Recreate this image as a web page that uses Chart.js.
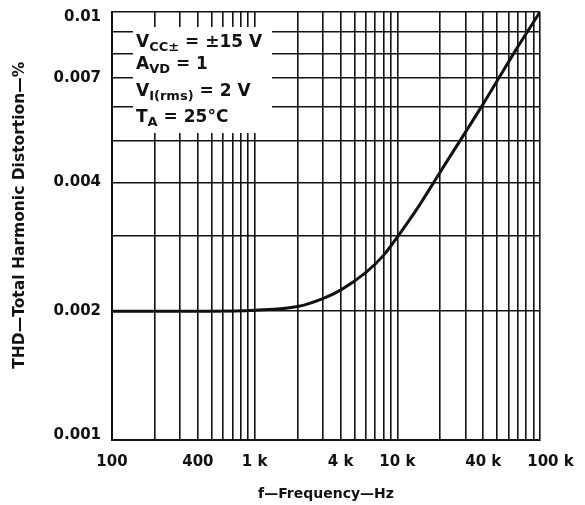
<!DOCTYPE html>
<html>
<head>
<meta charset="utf-8">
<script src="https://cdn.jsdelivr.net/npm/chart.js@4"></script>
<style>
  html, body { margin: 0; padding: 0; background: #fff; }
</style>
</head>
<body>
<canvas id="thdChart" width="585" height="505"></canvas>
<script>
// frequency (Hz) and THD (%)
const freq = [100, 500, 1000, 2000, 3000, 4000, 6000, 8000, 10000, 14000, 20000, 40000, 70000, 100000];
const thd = [0.002, 0.002, 0.00201, 0.00205, 0.00214, 0.00224, 0.00246, 0.0027, 0.00298, 0.0035, 0.00423, 0.0061, 0.0083, 0.01];

const xTicks = [100, 400, 1000, 4000, 10000, 40000, 100000];
const xTickLabels = ['100', '400', '1 k', '4 k', '10 k', '40 k', '    100 k'];
const yTicks = [0.001, 0.002, 0.004, 0.007, 0.01];
const yTickLabels = [['0.001', ''], '0.002', '0.004', '0.007', ['', '0.01']];

const conditions = [
    [['V', 0], ['CC\u00b1', 1], [' = \u00b115 V', 0]],
    [['A', 0], ['VD', 1], [' = 1', 0]],
    [['V', 0], ['I(rms)', 1], [' = 2 V', 0]],
    [['T', 0], ['A', 1], [' = 25\u00b0C', 0]]
];

const ink = '#111';
const fontName = '"DejaVu Sans", sans-serif';

function findLabel(v, values, labels) {
    for (let i = 0; i < values.length; i++) {
        if (Math.abs(v - values[i]) / values[i] < 1e-6) return labels[i];
    }
    return '';
}

// keep only the 1..9 x 10^n grid lines
function wholeDecadeSteps(scale) {
    scale.ticks = scale.ticks.filter(function(t) {
        const m = t.value / Math.pow(10, Math.floor(Math.log10(t.value) + 1e-9));
        return Math.abs(m - Math.round(m)) < 1e-6;
    });
}

// white box with the test conditions, drawn over the grid
const conditionsBox = {
    id: 'conditionsBox',
    beforeDatasetsDraw(chart) {
        const ctx = chart.ctx;
        const area = chart.chartArea;
        ctx.save();
        ctx.fillStyle = '#fff';
        ctx.fillRect(area.left + 21, area.top + 15, 139, 106);
        ctx.fillStyle = ink;
        ctx.textBaseline = 'alphabetic';
        const baselines = [47, 69, 96, 122];
        conditions.forEach(function(line, i) {
            let x = area.left + 24;
            line.forEach(function(run) {
                const sub = run[1] === 1;
                ctx.font = 'bold ' + (sub ? 13 : 17) + 'px ' + fontName;
                ctx.fillText(run[0], x, baselines[i] + (sub ? 4 : 0));
                x += ctx.measureText(run[0]).width;
            });
        });
        ctx.restore();
    }
};

const ctx = document.getElementById('thdChart').getContext('2d');
const thdChart = new Chart(ctx, {
    type: 'line',
    data: {
        labels: freq,
        datasets: [{
            data: freq.map(function(f, i) { return { x: f, y: thd[i] }; }),
            borderColor: ink,
            borderWidth: 3,
            pointRadius: 0,
            fill: false,
            cubicInterpolationMode: 'monotone'
        }]
    },
    options: {
        responsive: false,
        animation: false,
        layout: {
            padding: { left: 0, top: 12, right: 45, bottom: 0 }
        },
        plugins: {
            legend: { display: false },
            tooltip: { enabled: false }
        },
        scales: {
            x: {
                type: 'logarithmic',
                min: 100,
                max: 100000,
                afterBuildTicks: wholeDecadeSteps,
                afterFit: function(scale) {
                    scale.height = 65;
                    scale.paddingLeft = 0;
                    scale.paddingRight = 0;
                },
                grid: { color: ink, lineWidth: 1.6, drawTicks: false },
                border: { color: ink, width: 2 },
                ticks: {
                    autoSkip: false,
                    maxRotation: 0,
                    padding: 13,
                    color: ink,
                    font: { family: fontName, size: 15, weight: 'bold' },
                    callback: function(value) {
                        return findLabel(value, xTicks, xTickLabels);
                    }
                },
                title: {
                    display: true,
                    text: 'f\u2014Frequency\u2014Hz',
                    color: ink,
                    font: { family: fontName, size: 14, weight: 'bold' },
                    padding: { top: 0, bottom: 2 }
                }
            },
            y: {
                type: 'logarithmic',
                min: 0.001,
                max: 0.01,
                afterBuildTicks: wholeDecadeSteps,
                afterFit: function(scale) {
                    scale.width = 112;
                    scale.paddingTop = 0;
                    scale.paddingBottom = 0;
                },
                grid: { color: ink, lineWidth: 1.6, drawTicks: false },
                border: { color: ink, width: 2 },
                ticks: {
                    autoSkip: false,
                    padding: 11,
                    color: ink,
                    font: { family: fontName, size: 15, weight: 'bold', lineHeight: '10px' },
                    callback: function(value) {
                        return findLabel(value, yTicks, yTickLabels);
                    }
                },
                title: {
                    display: true,
                    text: '    THD\u2014Total Harmonic Distortion\u2014%',
                    color: ink,
                    font: { family: fontName, size: 15.5, weight: 'bold' },
                    padding: { top: 11, bottom: 0 }
                }
            }
        }
    },
    plugins: [conditionsBox]
});
</script>
</body>
</html>
